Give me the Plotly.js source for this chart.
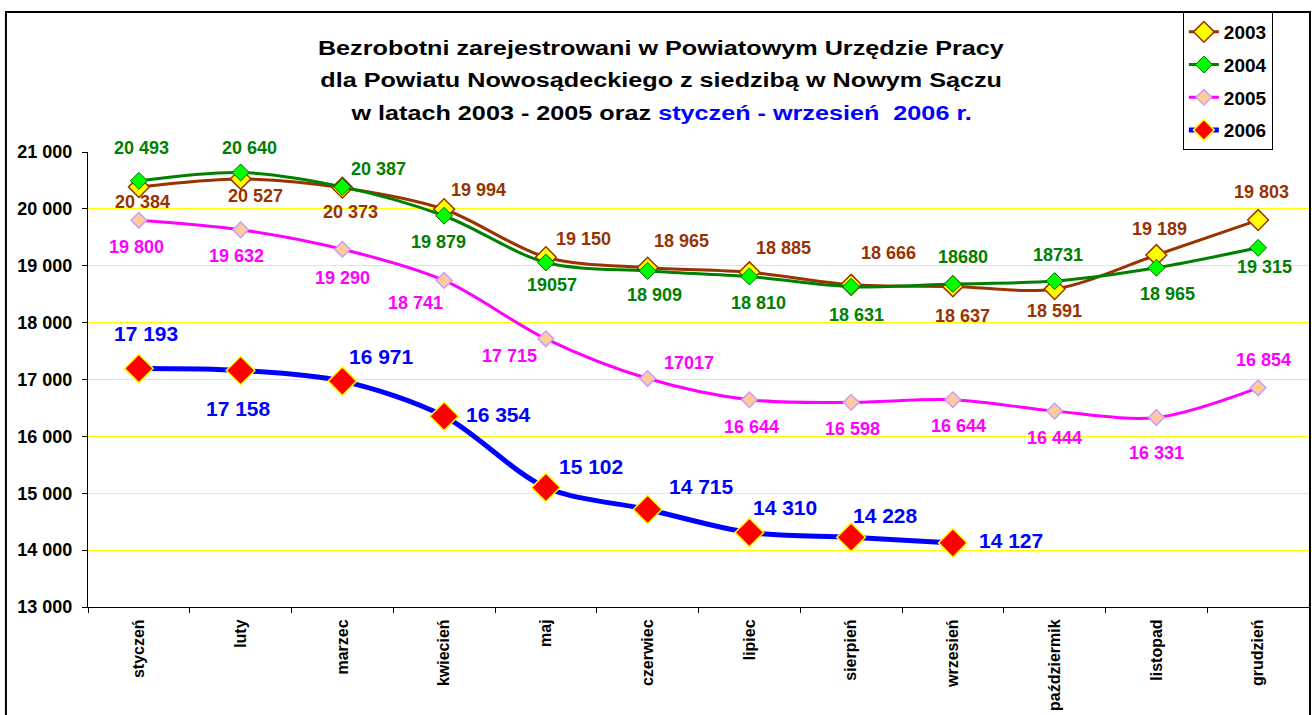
<!DOCTYPE html>
<html>
<head>
<meta charset="utf-8">
<script src="https://cdn.plot.ly/plotly-3.0.1.min.js"></script>
<style>html,body{margin:0;padding:0;background:#fff;}#chart{width:1312px;height:715px;}</style>
</head>
<body>
<div id="chart"></div>
<script>
// ---- data ----
const months = ["styczeń","luty","marzec","kwiecień","maj","czerwiec","lipiec","sierpień","wrzesień","paździermik","listopad","grudzień"];
const y2003 = [20384,20527,20373,19994,19150,18965,18885,18666,18637,18591,19189,19803];
const y2004 = [20493,20640,20387,19879,19057,18909,18810,18631,18680,18731,18965,19315];
const y2005 = [19800,19632,19290,18741,17715,17017,16644,16598,16644,16444,16331,16854];
const y2006 = [17193,17158,16971,16354,15102,14715,14310,14228,14127];
const t2003 = ["20 384","20 527","20 373","19 994","19 150","18 965","18 885","18 666","18 637","18 591","19 189","19 803"];
const t2004 = ["20 493","20 640","20 387","19 879","19057","18 909","18 810","18 631","18680","18731","18 965","19 315"];
const t2005 = ["19 800","19 632","19 290","18 741","17 715","17017","16 644","16 598","16 644","16 444","16 331","16 854"];
const t2006 = ["17 193","17 158","16 971","16 354","15 102","14 715","14 310","14 228","14 127"];
const seriesNames = ["2003","2004","2005","2006"];

// ---- label offsets (px: right, up) ----
const off2003 = [[4,-15],[15,-17],[8,-24],[34,19],[38,18],[34,27],[34,24],[37,32],[10,-30],[0,-22],[3,26],[3,28]];
const off2004 = [[3,33],[9,24],[36,18],[-6,-26],[6,-22],[7,-24],[9,-26],[5,-28],[10,27],[3,26],[11,-26],[6,-19]];
const off2005 = [[-2,-27],[-4,-26],[0,-29],[-29,-23],[-36,-17],[41,16],[2,-27],[1,-27],[6,-26],[0,-27],[0,-35],[5,28]];
const off2006 = [[7,35],[-2,-38],[39,25],[54,2],[45,21],[54,23],[36,25],[34,22],[58,2]];

const FONT = "Arial, 'Liberation Sans', sans-serif";
const C03 = "#993300", C04 = "#008000", C05 = "#FF00FF", C06 = "#0000FF";

function trace(name, y, lineColor, lw, mSize, mFill, mLine, mlw, grp) {
  return {
    type: "scatter", mode: "lines+markers", name: name,
    x: months.slice(0, y.length), y: y,
    line: {color: lineColor, width: lw, shape: "spline", smoothing: 0.9},
    marker: {symbol: "diamond", size: mSize, color: mFill, line: {color: mLine, width: mlw}},
    legendgroup: grp, hoverinfo: "skip"
  };
}

const data = [
  trace(seriesNames[0], y2003, C03, 3, 16, "#FFFF00", C03, 1.5, "a"),
  trace(seriesNames[1], y2004, C04, 3, 13, "#00FF00", "#006600", 1, "b"),
  trace(seriesNames[2], y2005, C05, 3, 12, "#FFCC99", "#CC99FF", 1.5, "c"),
  trace(seriesNames[3], y2006, C06, 5, 22, "#FF0000", "#FFFF00", 1.5, "d")
];

const annotations = [];
function addLabels(y, txt, off, color, size) {
  y.forEach((v, i) => {
    annotations.push({
      x: months[i], y: v, xref: "x", yref: "y", text: "<b>" + txt[i] + "</b>",
      showarrow: false, xanchor: "center", yanchor: "middle",
      xshift: off[i][0], yshift: off[i][1],
      font: {family: FONT, size: size, color: color}
    });
  });
}
addLabels(y2003, t2003, off2003, C03, 18);
addLabels(y2004, t2004, off2004, C04, 18);
addLabels(y2005, t2005, off2005, C05, 18);
addLabels(y2006, t2006, off2006, C06, 21);

// title lines
const titleLines = [
  "<b>Bezrobotni zarejestrowani w Powiatowym Urzędzie Pracy</b>",
  "<b>dla Powiatu Nowosądeckiego z siedzibą w Nowym Sączu</b>",
  "<b>w latach 2003 - 2005 oraz <span style='color:#0000FF'>styczeń - wrzesień  2006 r.</span></b>"
];
const titleY = [1.2286, 1.1604, 1.0879];
titleLines.forEach((t, i) => annotations.push({
  x: 0.469, y: titleY[i], xref: "paper", yref: "paper", text: t, showarrow: false,
  xanchor: "center", yanchor: "middle", font: {family: FONT, size: 21, color: "#000"}
}));

const layout = {
  width: 1312, height: 715,
  margin: {l: 88, r: 3, t: 152, b: 108},
  paper_bgcolor: "#fff", plot_bgcolor: "#fff",
  separators: ", ",
  showlegend: true,
  legend: {
    x: 0.8967, y: 1.3077, xanchor: "left", yanchor: "top",
    bordercolor: "#000", borderwidth: 1, bgcolor: "#fff",
    font: {family: FONT, size: 19, color: "#000", weight: "bold"},
    traceorder: "grouped", tracegroupgap: 5
  },
  xaxis: {
    type: "category", tickson: "boundaries", ticks: "outside", ticklen: 5, tickcolor: "#000",
    showline: true, linecolor: "#000", linewidth: 1, showgrid: false, zeroline: false,
    tickangle: -90, automargin: false, ticklabelstandoff: 5,
    tickfont: {family: FONT, size: 16, color: "#000", weight: "bold"},
    range: [-0.5, 11.5]
  },
  yaxis: {
    range: [13000, 21000], dtick: 1000, tickformat: ",d",
    ticks: "outside", ticklen: 5, tickcolor: "#000",
    showline: true, linecolor: "#000", linewidth: 1,
    showgrid: true, gridcolor: "#FFFF00", gridwidth: 1, zeroline: false,
    automargin: false, ticklabelstandoff: 6,
    tickfont: {family: FONT, size: 18, color: "#000", weight: "bold"}
  },
  annotations: annotations,
  shapes: [{
    type: "rect", xref: "paper", yref: "paper",
    x0: -0.0672, x1: 1.0008, y0: -0.3, y1: 1.3077,
    line: {color: "#000", width: 2}, fillcolor: "rgba(0,0,0,0)"
  }]
};

Plotly.newPlot("chart", data, layout, {displayModeBar: false, staticPlot: true}).then(() => {
  const anns = document.querySelectorAll("#chart .infolayer g.annotation text.annotation-text");
  const n = anns.length;
  for (let k = n - titleLines.length; k < n; k++) {
    const el = anns[k];
    if (!el) continue;
    el.style.transformBox = "fill-box";
    el.style.transformOrigin = "center";
    el.style.transform = "scaleX(1.2)";
  }
});
</script>
</body>
</html>
